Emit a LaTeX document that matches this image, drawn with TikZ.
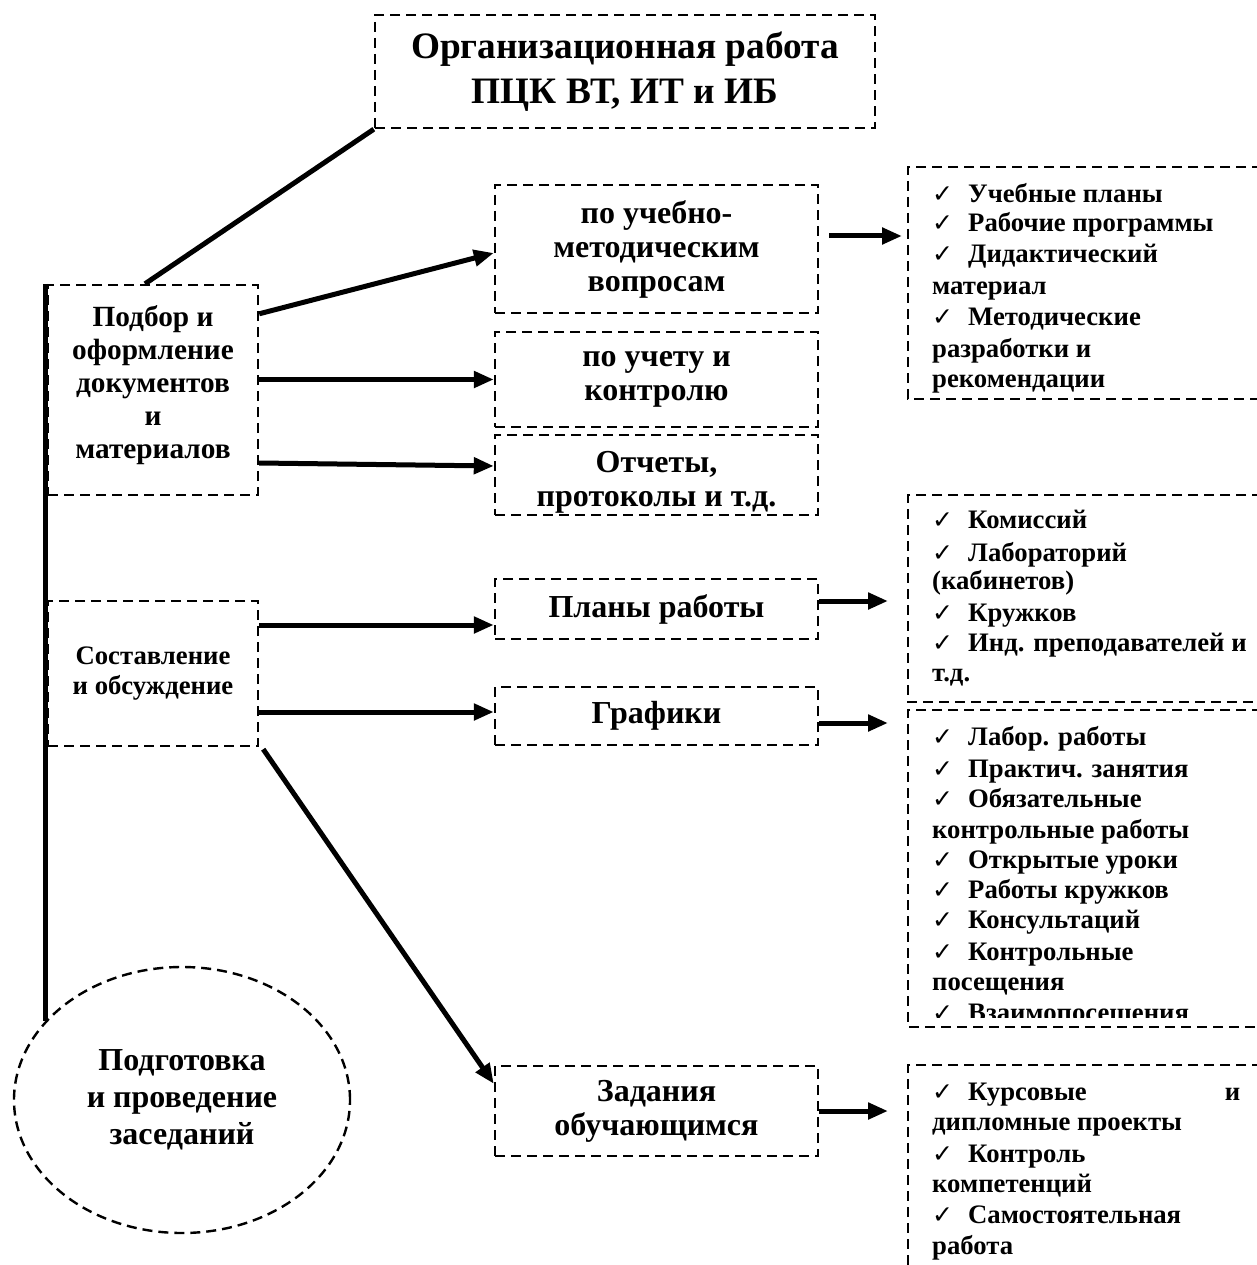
\documentclass[tikz,border=0pt]{standalone}
\usepackage{fontspec}
\setmainfont{Liberation Serif}
\newfontfamily\sym{DejaVu Sans}
\usetikzlibrary{arrows.meta,shapes.geometric}
\newcommand{\ck}{\makebox[36pt][l]{\sym\fontsize{25}{25}\selectfont ✓}}
\begin{document}
\begin{tikzpicture}[x=1pt,y=-1pt,
 dashline/.style={line width=2.4pt, dash pattern=on 10pt off 6pt},
 dbox/.style={draw, dashline, rectangle, inner sep=0pt, align=center, font=\bfseries\fontsize{32}{34}\selectfont},
 txt/.style={inner sep=0pt, align=center},
 arr/.style={line width=5pt, -{Triangle[length=20pt,width=16pt]}},
 thickline/.style={line width=5pt},
 li/.style={anchor=base west, inner sep=0pt, font=\bfseries\fontsize{26.7}{30}\selectfont},
]
\useasboundingbox[fill=white] (0,0) rectangle (1256,1265);

% main nodes
\node[dbox, minimum width=500pt, minimum height=113pt, font=\bfseries\fontsize{37.3}{45}\selectfont] (title) at (625,71.5) {Организационная работа\\ПЦК ВТ, ИТ и ИБ};
\node[dbox, minimum width=210pt, minimum height=210pt] (pod) at (153,390) {};
\node[txt, font=\bfseries\fontsize{29.3}{33}\selectfont] (podT) at ([yshift=5pt]pod.center) {Подбор и\\оформление\\документов\\и\\материалов};
\node[dbox, minimum width=323pt, minimum height=128pt] (uch) at (656.5,249) {по учебно-\\методическим\\вопросам};
\node[dbox, minimum width=323pt, minimum height=95pt] (kon) at (656.5,379.5) {по учету и\\контролю};
\node[dbox, minimum width=323pt, minimum height=80pt] (otch) at (656.5,475) {};
\node[txt, font=\bfseries\fontsize{32}{34}\selectfont] (otchT) at ([yshift=-7pt]otch.center) {Отчеты,\\протоколы и т.д.};
\node[dbox, minimum width=210pt, minimum height=145pt, font=\bfseries\fontsize{26.7}{30}\selectfont] (sost) at (153,673.5) {Составление\\и обсуждение};
\node[dbox, minimum width=323pt, minimum height=60pt] (plan) at (656.5,609) {Планы работы};
\node[dbox, minimum width=323pt, minimum height=58pt] (graf) at (656.5,716) {Графики};
\node[dbox, minimum width=323pt, minimum height=90pt] (zad) at (656.5,1111) {Задания\\обучающимся};
\node[draw, dashline, ellipse, inner sep=0pt, minimum width=336pt, minimum height=266pt, align=center, font=\bfseries\fontsize{32}{37}\selectfont] (zas) at (182,1100) {Подготовка\\и проведение\\заседаний};

% right open boxes
\draw[dashline] (1262,167) -- (908,167) -- (908,399) -- (1262,399);
\draw[dashline] (1262,495) -- (908,495) -- (908,702) -- (1262,702);
\draw[dashline] (1262,710) -- (908,710) -- (908,1027) -- (1262,1027);
\draw[dashline] (1262,1065) -- (908,1065) -- (908,1270);
\coordinate (r1) at (902,236);
\coordinate (r2) at (888,601);
\coordinate (r3) at (888,723);
\coordinate (r4) at (888,1111);

% lists
\foreach \y/\t [count=\i] in {203/{\ck Учебные планы},232/{\ck Рабочие программы},262/{\ck Дидактический},294/{материал},325/{\ck Методические},357/{разработки и},387/{рекомендации}}
  \node[li] (la\i) at (932,\y) {\t};
\foreach \y/\t [count=\i] in {528/{\ck Комиссий},561/{\ck Лабораторий},589/{(кабинетов)},621/{\ck Кружков},651/{\ck Инд. преподавателей и},681/{т.д.}}
  \node[li] (lb\i) at (932,\y) {\t};
\begin{scope}
\clip (908,712) rectangle (1256,1017);
\foreach \y/\t [count=\i] in {745/{\ck Лабор. работы},777/{\ck Практич. занятия},807/{\ck Обязательные},838/{контрольные работы},868/{\ck Открытые уроки},898/{\ck Работы кружков},928/{\ck Консультаций},960/{\ck Контрольные},990/{посещения},1021/{\ck Взаимопосещения}}
  \node[li] (lc\i) at (932,\y) {\t};
\end{scope}
\foreach \y/\t [count=\i] in {1100/{\makebox[308pt][l]{\ck Курсовые\hfill и}},1130/{дипломные проекты},1162/{\ck Контроль},1192/{компетенций},1223/{\ck Самостоятельная},1254/{работа}}
  \node[li] (ld\i) at (932,\y) {\t};

% connector end points
\coordinate (pe) at ([yshift=-16pt]plan.west);
\coordinate (ge) at ([yshift=4pt]graf.west);

% connectors
\draw[thickline] (title.south west) -- ([xshift=-8pt]pod.north);
\draw[thickline] (zas.150 |- pod.north west) -- (zas.150);
\draw[arr] ([yshift=-30pt]pod.north east) -- ([yshift=-4pt]uch.west);
\draw[arr] (pod.east |- kon.west) -- (kon.west);
\draw[arr] ([yshift=-73pt]pod.east) -- ([yshift=9pt]otch.west);
\draw[arr] (sost.east |- pe) -- (pe);
\draw[arr] (sost.east |- ge) -- (ge);
\draw[arr] ([xshift=4pt,yshift=-2pt]sost.south east) -- ([yshift=-19pt]zad.north west);
\draw[arr] ([xshift=10pt,yshift=13pt]uch.east) -- (r1);
\draw[arr] ([yshift=8pt]plan.east) -- (r2);
\draw[arr] ([yshift=-7pt]graf.east) -- (r3);
\draw[arr] (zad.east) -- (r4);
\end{tikzpicture}
\end{document}
